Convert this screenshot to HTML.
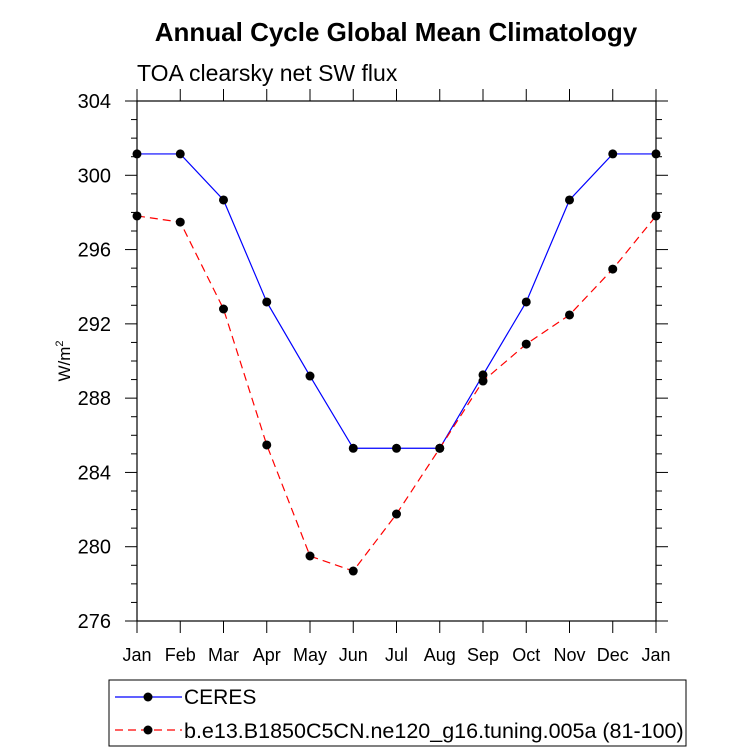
<!DOCTYPE html>
<html><head><meta charset="utf-8"><style>body{margin:0;background:#fff}svg{display:block;font-family:"Liberation Sans",sans-serif}</style></head>
<body>
<svg id="c" width="733" height="755">
<text x="396" y="41" text-anchor="middle" font-size="26" font-weight="bold">Annual Cycle Global Mean Climatology</text>
<text x="137" y="81" font-size="23">TOA clearsky net SW flux</text>
<text transform="translate(70,361) rotate(-90)" text-anchor="middle" font-size="17">W/m<tspan dy="-7" font-size="11">2</tspan></text>
<g id="axes"></g><g id="series"></g>
<rect x="109" y="680" width="577" height="66" fill="none" stroke="#000" stroke-width="1"/>
<g><line x1="115" y1="697" x2="182" y2="697" stroke="#0000ff" stroke-width="1.2"/><circle cx="148" cy="697" r="4.5"/><text x="184" y="704" font-size="21">CERES</text></g>
<g><line x1="115" y1="730" x2="182" y2="730" stroke="#ff0000" stroke-width="1.2" stroke-dasharray="8,5"/><circle cx="148" cy="730" r="4.5"/><text x="184" y="738" font-size="21.5">b.e13.B1850C5CN.ne120_g16.tuning.005a (81-100)</text></g>
</svg>
<script>
const months=["Jan","Feb","Mar","Apr","May","Jun","Jul","Aug","Sep","Oct","Nov","Dec","Jan"];
const ceres=[301.15,301.15,298.67,293.18,289.19,285.3,285.3,285.3,289.25,293.18,298.67,301.15,301.15];
const model=[297.81,297.48,292.8,285.48,279.5,278.69,281.76,285.3,288.92,290.91,292.48,294.95,297.81];
const yTicks=[276,280,284,288,292,296,300,304];
const NS="http://www.w3.org/2000/svg";
const L=137,R=656,T=101,B=621,ymin=276,ymax=304;
const xs=i=>L+i*(R-L)/12, ys=v=>B-(v-ymin)/(ymax-ymin)*(B-T);
function mk(t,a,p){const e=document.createElementNS(NS,t);for(const k in a)e.setAttribute(k,a[k]);p.appendChild(e);return e;}
const ax=document.getElementById('axes');
const fr=mk('rect',{x:L,y:T,width:R-L,height:B-T,fill:'none',stroke:'#000','stroke-width':1.2},ax);


for(let v=ymin;v<=ymax;v++){const maj=(v-ymin)%4===0,len=maj?12:6,y=ys(v);
mk('line',{x1:L-len,y1:y,x2:L,y2:y,stroke:'#000'},ax);mk('line',{x1:R,y1:y,x2:R+len,y2:y,stroke:'#000'},ax);}
yTicks.forEach(v=>{const t=mk('text',{x:L-26,y:ys(v)+7,'text-anchor':'end','font-size':20},ax);t.textContent=v;

});
months.forEach((m,i)=>{const x=xs(i);mk('line',{x1:x,y1:B,x2:x,y2:B+12,stroke:'#000'},ax);mk('line',{x1:x,y1:T-12,x2:x,y2:T,stroke:'#000'},ax);
const t=mk('text',{x:x,y:B+40,'text-anchor':'middle','font-size':18},ax);t.textContent=m;

});
const sg=document.getElementById('series');
function draw(vals,col,dash,name){const g=mk('g',{},sg);


mk('polyline',{points:vals.map((v,i)=>xs(i)+','+ys(v)).join(' '),fill:'none',stroke:col,'stroke-width':1.2,'stroke-dasharray':dash},g);
vals.forEach((v,i)=>{const c=mk('circle',{cx:xs(i),cy:ys(v),r:4.5,fill:'#000'},g);

});}
draw(ceres,'#0000ff','none','series-ceres');
draw(model,'#ff0000','8,5','series-model');
</script>
</body></html>
